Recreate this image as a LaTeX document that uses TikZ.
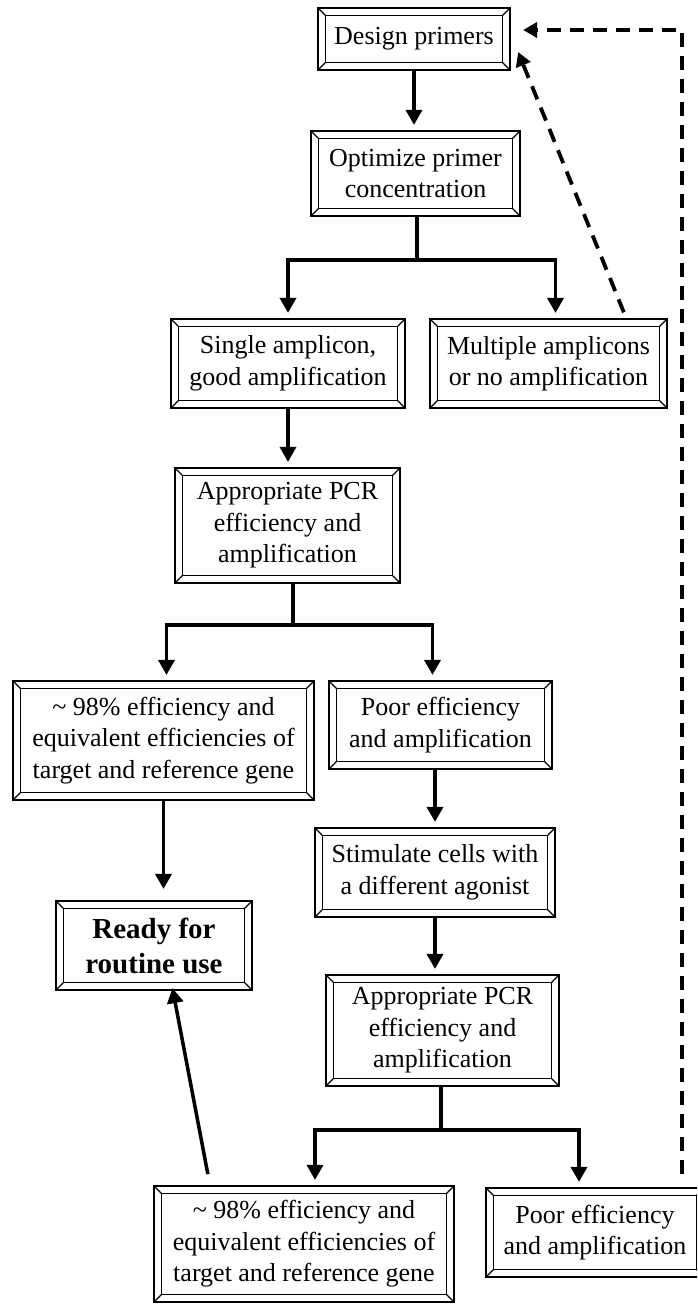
\documentclass[tikz,border=0pt]{standalone}
\usepackage{fontspec}
\setmainfont{Liberation Serif}
\usetikzlibrary{arrows.meta,calc}
\newcommand\fsz{\fontsize{26}{31.5}\selectfont}
\newcommand\fszb{\fontsize{29}{35}\selectfont\bfseries}
\tikzset{
  fbox/.style={draw, line width=2.2pt, inner sep=0pt, align=center, font=\fsz,
    path picture={
      \draw[line width=1.9pt] ([shift={(7.5pt,-7.5pt)}]path picture bounding box.north west) rectangle ([shift={(-7.5pt,7.5pt)}]path picture bounding box.south east);
      \draw[line width=1.1pt] (path picture bounding box.north west) -- ++(7.5pt,-7.5pt);
      \draw[line width=1.1pt] (path picture bounding box.north east) -- ++(-7.5pt,-7.5pt);
      \draw[line width=1.1pt] (path picture bounding box.south west) -- ++(7.5pt,7.5pt);
      \draw[line width=1.1pt] (path picture bounding box.south east) -- ++(-7.5pt,7.5pt);
    }},
  arr/.style={line width=3.5pt, line join=miter, -{Triangle[width=16pt,length=15pt]}, shorten >=5pt},
  dasharr/.style={line width=3.8pt, line join=miter, dash pattern=on 14pt off 9pt, -{Triangle[width=15pt,length=14pt]}},
}
\begin{document}
\begin{tikzpicture}[x=1pt,y=-1pt]
\path[use as bounding box] (0,0) rectangle (697,1304);
\clip (0,0) rectangle (697,1304);
% boxes
\node[fbox, minimum width=192pt, minimum height=62pt] (dp) at (414,39) {Design primers};
\node[fbox, minimum width=209pt, minimum height=85pt] (opt) at (415.5,173.5) {Optimize primer\\concentration};
\node[fbox, minimum width=234pt, minimum height=89pt] (single) at (288,363.5) {Single amplicon,\\good amplification};
\node[fbox, minimum width=237pt, minimum height=89pt] (multi) at (548.5,363.5) {Multiple amplicons\\or no amplification};
\node[fbox, minimum width=225pt, minimum height=115pt] (app1) at (287.5,525.5) {Appropriate PCR\\efficiency and\\amplification};
\node[fbox, minimum width=301pt, minimum height=119pt] (eff1) at (163.5,740.5) {\textasciitilde\ 98\% efficiency and\\equivalent efficiencies of\\target and reference gene};
\node[fbox, minimum width=223pt, minimum height=88pt] (poor1) at (440.5,725) {Poor efficiency\\and amplification};
\node[fbox, font=\fszb, minimum width=196pt, minimum height=89pt] (ready) at (154,945.5) {Ready for\\routine use};
\node[fbox, minimum width=240pt, minimum height=89pt] (stim) at (435,872.5) {Stimulate cells with\\a different agonist};
\node[fbox, minimum width=233pt, minimum height=111pt] (app2) at (442.5,1030.5) {Appropriate PCR\\efficiency and\\amplification};
\node[fbox, minimum width=300pt, minimum height=116pt] (eff2) at (304,1244) {\textasciitilde\ 98\% efficiency and\\equivalent efficiencies of\\target and reference gene};
\node[fbox, minimum width=218pt, minimum height=89pt] (poor2) at (595,1232.5) {Poor efficiency\\and amplification};
% junctions
\coordinate (j1) at (417,260);
\coordinate (j2) at (293,625);
\coordinate (j3) at (441,1130);
% connectors
\draw[arr] (dp.south) -- (dp.south |- opt.north);
\draw[arr] (opt.south -| j1) -- (j1) -| (single.north);
\draw[arr] (j1) -| ([xshift=7pt]multi.north);
\draw[arr] (single.south) -- (single.south |- app1.north);
\draw[arr] (app1.south -| j2) -- (j2) -| ([xshift=3pt]eff1.north);
\draw[arr] (j2) -| ([xshift=-8pt]poor1.north);
\draw[arr] (stim.north |- poor1.south) -- (stim.north);
\draw[arr] (stim.south) -- (stim.south |- app2.north);
\draw[arr] (app2.south -| j3) -- (j3) -| ([xshift=11pt]eff2.north);
\draw[arr] (j3) -| ([xshift=-16pt]poor2.north);
\draw[arr, shorten >=11pt] (eff1.south) -- (eff1.south |- ready.north);
\draw[arr, shorten <=11pt, shorten >=-3pt] ($(eff2.north west)+(57,0)$) -- ($(ready.south)+(19,0)$);
% dashed feedback
\draw[dasharr, shorten <=6pt] ($(multi.north east)+(-42,0)$) -- ($(dp.east)+(7,13)$);
\draw[dasharr, shorten <=13pt, shorten >=12pt] ($(poor2.north)+(87,0)$) |- ($(dp.east)+(0,-9)$);
\end{tikzpicture}
\end{document}
